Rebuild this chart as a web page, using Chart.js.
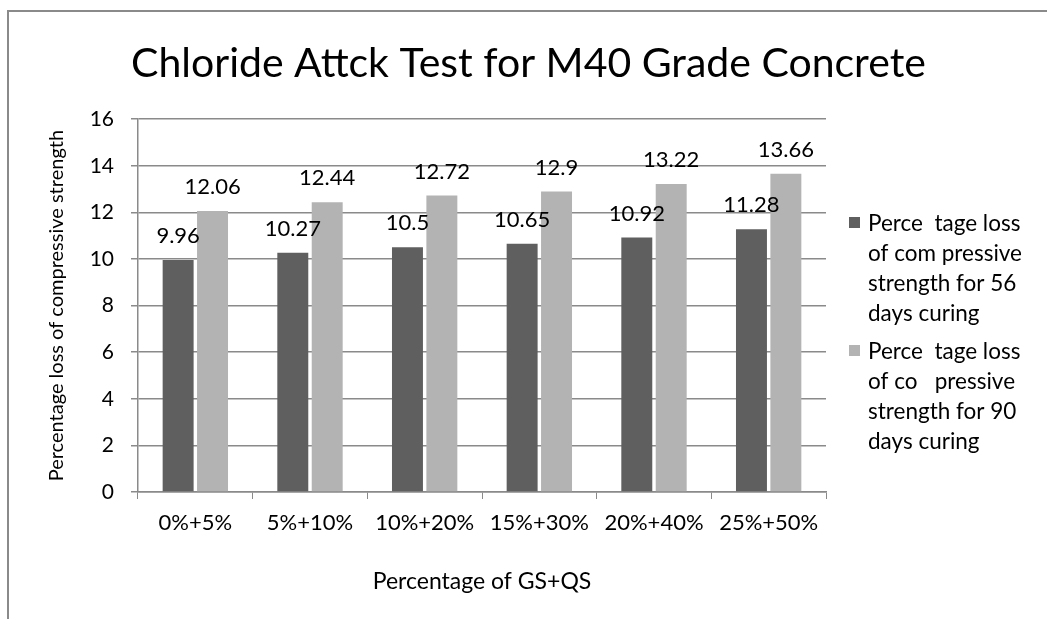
<!DOCTYPE html>
<html>
<head>
<meta charset="utf-8">
<script src="https://cdn.jsdelivr.net/npm/chart.js@4.4.1/dist/chart.umd.min.js"></script>
<style>
  html, body { margin: 0; padding: 0; background: #ffffff; }
  #wrap { position: relative; width: 1047px; height: 619px; }
</style>
</head>
<body>
<div id="wrap"><canvas id="c" width="1047" height="619"></canvas></div>
<script>
const categories = ["0%+5%", "5%+10%", "10%+20%", "15%+30%", "20%+40%", "25%+50%"];
const loss56 = [9.96, 10.27, 10.5, 10.65, 10.92, 11.28];
const loss90 = [12.06, 12.44, 12.72, 12.9, 13.22, 13.66];
const legend56 = ["Perce  tage loss", "of com pressive", "strength for 56", "days curing"];
const legend90 = ["Perce  tage loss", "of co   pressive", "strength for 90", "days curing"];
const yTicks = [0, 2, 4, 6, 8, 10, 12, 14, 16];
const chartTitle = "Chloride Attck Test for M40 Grade Concrete";
const yTitle = "Percentage loss of compressive strength";
const xTitle = "Percentage of GS+QS";

const FONT = "Lato, 'Liberation Sans', sans-serif";
const GRID = "#8a8a8a";

const framePlugin = {
  id: 'frame',
  beforeDraw(chart) {
    const ctx = chart.ctx;
    ctx.save();
    ctx.strokeStyle = "#8a8a8a";
    ctx.lineWidth = 2;
    ctx.beginPath();
    ctx.moveTo(8, 619);
    ctx.lineTo(8, 11);
    ctx.lineTo(1047, 11);
    ctx.stroke();
    ctx.restore();
  }
};

const labelPlugin = {
  id: 'barLabels',
  afterDatasetsDraw(chart) {
    const ctx = chart.ctx;
    ctx.save();
    ctx.font = "22px " + FONT;
    ctx.fillStyle = "#000";
    ctx.textAlign = "center";
    ctx.textBaseline = "middle";
    chart.data.datasets.forEach((ds, i) => {
      const meta = chart.getDatasetMeta(i);
      meta.data.forEach((bar, j) => {
        ctx.fillText(String(ds.data[j]), bar.x, bar.y - 24);
      });
    });
    ctx.restore();
  }
};

const legendPlugin = {
  id: 'sideLegend',
  afterDraw(chart) {
    const ctx = chart.ctx;
    ctx.save();
    ctx.font = "22.5px " + FONT;
    ctx.textAlign = "left";
    ctx.textBaseline = "middle";
    const starts = [224, 352];
    chart.data.datasets.forEach((ds, i) => {
      const y0 = starts[i];
      ctx.fillStyle = ds.backgroundColor;
      ctx.fillRect(849, y0 - 7, 11, 11);
      ctx.fillStyle = "#000";
      ds.legendLines.forEach((line, k) => {
        ctx.fillText(line, 868, y0 + k * 30);
      });
    });
    ctx.restore();
  }
};

new Chart(document.getElementById('c'), {
  type: 'bar',
  data: {
    labels: categories,
    datasets: [
      { label: legend56.join(" "), legendLines: legend56, data: loss56, backgroundColor: "#5f5f5f",
        categoryPercentage: 0.6, barPercentage: 0.9 },
      { label: legend90.join(" "), legendLines: legend90, data: loss90, backgroundColor: "#b3b3b3",
        categoryPercentage: 0.6, barPercentage: 0.9 }
    ]
  },
  options: {
    responsive: false,
    animation: false,
    devicePixelRatio: 1,
    layout: { padding: { left: 10, right: 0, top: 0, bottom: 0 } },
    plugins: {
      legend: { display: false },
      tooltip: { enabled: false },
      title: {
        display: true,
        text: chartTitle,
        color: "#000",
        font: { family: FONT, size: 41, weight: 'normal', lineHeight: 1.2 },
        padding: { top: 39, bottom: 31 }
      }
    },
    scales: {
      x: {
        offset: true,
        grid: { display: true, drawOnChartArea: false, drawTicks: true, tickLength: 7, color: GRID, offset: true },
        border: { display: true, color: GRID, width: 1.5 },
        ticks: { color: "#000", font: { family: FONT, size: 22 }, padding: 11 },
        title: { display: true, text: xTitle, color: "#000", font: { family: FONT, size: 23, lineHeight: 1.2 },
                 padding: { top: 10, bottom: 23.5 } },
        afterFit(scale) { scale.height = 127; }
      },
      y: {
        min: 0, max: 16,
        afterBuildTicks(scale) { scale.ticks = yTicks.map(v => ({ value: v })); },
        grid: { color: GRID, lineWidth: 1.5, tickLength: 7, drawTicks: true },
        border: { display: true, color: GRID, width: 1.5 },
        ticks: { color: "#000", font: { family: FONT, size: 21 }, padding: 17 },
        title: { display: true, text: yTitle, color: "#000", font: { family: FONT, size: 20, lineHeight: 1.2 },
                 padding: { top: 35, bottom: 10 } },
        afterFit(scale) { scale.width = 128; }
      },
      legendSpace: {
        type: 'linear',
        position: 'right',
        display: true,
        grid: { display: false, drawTicks: false },
        border: { display: false },
        ticks: { display: false },
        afterFit(scale) { scale.width = 221; }
      }
    }
  },
  plugins: [framePlugin, labelPlugin, legendPlugin]
});
</script>
</body>
</html>
